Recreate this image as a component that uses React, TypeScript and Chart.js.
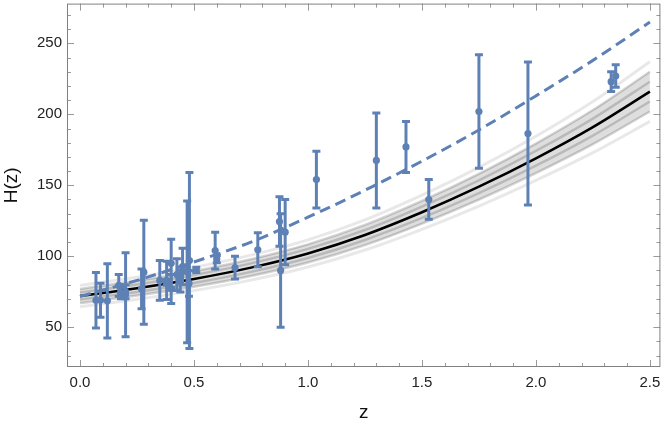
import React, { useEffect, useRef } from "react";
import { Chart, registerables } from "chart.js";

Chart.register(...registerables);

const curveZ = [0, 0.25, 0.5, 0.75, 1.0, 1.25, 1.5, 1.75, 2.0, 2.25, 2.5];
const bestFit = [72, 77.5, 84, 92, 102, 115, 131, 149, 169, 191, 216];
const dashedModel = [71.7, 83, 96, 110, 127.5, 146.5, 167, 189, 213, 238, 265];
const outerUpper = [79.5, 85.3, 92.2, 100.8, 111.6, 125.6, 143, 162.6, 184.5, 209, 237];
const outerLower = [64.5, 69.7, 75.8, 83.2, 92.4, 104.4, 119, 135.4, 153.5, 173, 195];
const midUpper = [77, 82.7, 89.5, 97.9, 108.4, 122.1, 139, 158.1, 179.4, 203, 230];
const midLower = [67, 72.3, 78.5, 86.1, 95.6, 107.9, 123, 139.9, 158.6, 179, 202];
const innerUpper = [74.5, 80.1, 86.8, 95, 105.2, 118.5, 135, 153.5, 174.2, 197, 223];
const innerLower = [69.5, 74.9, 81.2, 89, 98.8, 111.5, 127, 144.5, 163.8, 185, 209];

// ---- H(z) measurements ----
const zData = [0.07, 0.09, 0.12, 0.17, 0.18, 0.2, 0.2, 0.27, 0.28, 0.35, 0.38, 0.38, 0.4, 0.4, 0.425, 0.44, 0.45, 0.47, 0.478, 0.48, 0.51, 0.593, 0.6, 0.68, 0.78, 0.875, 0.88, 0.9, 1.037, 1.3, 1.43, 1.53, 1.75, 1.965, 2.33, 2.35];
const hData = [69, 69, 68.6, 79.5, 74, 72.9, 75, 77, 88.8, 83, 81.5, 83, 95, 77, 87.1, 82.6, 92.8, 89, 80.9, 97, 90.4, 104, 98, 92, 104.6, 124.5, 90, 117, 154, 167.5, 177, 140, 202, 186.5, 223, 227];
const errData = [19.6, 12, 26.2, 7.6, 4, 29.6, 5, 14, 36.6, 14, 1.9, 13.5, 17, 10.2, 11.2, 7.8, 12.9, 50, 9, 62, 1.9, 13, 2.5, 8, 12, 17.5, 40, 23, 20, 33.5, 18, 14, 40, 50.4, 7, 8];

// ---- ticks ----
const xMajorTicks = [0, 0.5, 1.0, 1.5, 2.0, 2.5];
const xMinorTicks = [-0.1, 0.1, 0.2, 0.3, 0.4, 0.6, 0.7, 0.8, 0.9, 1.1, 1.2, 1.3, 1.4, 1.6, 1.7, 1.8, 1.9, 2.1, 2.2, 2.3, 2.4];
const yMajorTicks = [50, 100, 150, 200, 250];
const yMinorTicks = [30, 40, 60, 70, 80, 90, 110, 120, 130, 140, 160, 170, 180, 190, 210, 220, 230, 240, 260, 270];

const BLUE = "#5E81B5";
const FONT = "'Liberation Sans', Arial, sans-serif";

const toXY = (ys: number[]) => curveZ.map((z, i) => ({ x: z, y: ys[i] }));

const framePlugin = {
  id: "framePlugin",
  afterDatasetsDraw(chart: any) {
    const { ctx, chartArea: a, scales } = chart;
    const x = scales.x;
    const y = scales.y;
    ctx.save();
    ctx.beginPath();
    ctx.rect(a.left, a.top, a.right - a.left, a.bottom - a.top);
    ctx.clip();
    ctx.strokeStyle = BLUE;
    ctx.lineWidth = 3;
    ctx.lineCap = "butt";
    for (let i = 0; i < zData.length; i++) {
      const px = x.getPixelForValue(zData[i]);
      const top = y.getPixelForValue(hData[i] + errData[i]);
      const bot = y.getPixelForValue(hData[i] - errData[i]);
      ctx.beginPath();
      ctx.moveTo(px, top);
      ctx.lineTo(px, bot);
      ctx.moveTo(px - 4, top);
      ctx.lineTo(px + 4, top);
      ctx.moveTo(px - 4, bot);
      ctx.lineTo(px + 4, bot);
      ctx.stroke();
    }
    ctx.restore();
  },
  afterDraw(chart: any) {
    const { ctx, chartArea: a, scales } = chart;
    const x = scales.x;
    const y = scales.y;
    ctx.save();
    ctx.lineWidth = 1;
    ctx.strokeStyle = "#9a9a9a";
    const tickX = (v: number, len: number) => {
      const px = Math.round(x.getPixelForValue(v)) + 0.5;
      if (px < a.left || px > a.right) return;
      ctx.beginPath();
      ctx.moveTo(px, a.bottom);
      ctx.lineTo(px, a.bottom - len);
      ctx.moveTo(px, a.top);
      ctx.lineTo(px, a.top + len);
      ctx.stroke();
    };
    const tickY = (v: number, len: number) => {
      const py = Math.round(y.getPixelForValue(v)) + 0.5;
      if (py < a.top || py > a.bottom) return;
      ctx.beginPath();
      ctx.moveTo(a.left, py);
      ctx.lineTo(a.left + len, py);
      ctx.moveTo(a.right, py);
      ctx.lineTo(a.right - len, py);
      ctx.stroke();
    };
    xMajorTicks.forEach((v) => tickX(v, 7));
    xMinorTicks.forEach((v) => tickX(v, 4));
    yMajorTicks.forEach((v) => tickY(v, 7));
    yMinorTicks.forEach((v) => tickY(v, 4));
    ctx.strokeStyle = "#808080";
    ctx.strokeRect(a.left + 0.5, a.top + 0.5, a.right - a.left - 1, a.bottom - a.top - 1);
    ctx.restore();
  },
};

export default function App() {
  const ref = useRef<HTMLCanvasElement | null>(null);
  useEffect(() => {
    document.body.style.margin = "0";
    const canvas = ref.current;
    if (!canvas) return;
    const bandLine = (data: number[], color: string, w: number, order: number, extra: any = {}) => ({
      type: "line",
      data: toXY(data),
      borderColor: color,
      borderWidth: w,
      pointRadius: 0,
      cubicInterpolationMode: "monotone",
      fill: false,
      order,
      ...extra,
    });
    const chart = new Chart(canvas, {
      type: "line",
      data: {
        datasets: [
          {
            type: "scatter",
            data: zData.map((z, i) => ({ x: z, y: hData[i] })),
            backgroundColor: BLUE,
            borderWidth: 0,
            pointRadius: 3.6,
            pointHoverRadius: 3.6,
            order: 0,
          } as any,
          bandLine(dashedModel, BLUE, 3, 1, { borderDash: [11, 6], borderCapStyle: "butt" }),
          bandLine(bestFit, "#000000", 2.5, 2),
          bandLine(innerUpper, "rgba(0,0,0,0.17)", 2.5, 3),
          bandLine(innerLower, "rgba(0,0,0,0.17)", 2.5, 4),
          bandLine(midUpper, "rgba(0,0,0,0.17)", 2.5, 5, { fill: 6, backgroundColor: "rgba(0,0,0,0.13)" }),
          bandLine(midLower, "rgba(0,0,0,0.17)", 2.5, 6),
          bandLine(outerUpper, "rgba(0,0,0,0.09)", 3, 7),
          bandLine(outerLower, "rgba(0,0,0,0.09)", 3, 8),
        ] as any,
      },
      options: {
        animation: false,
        responsive: false,
        devicePixelRatio: 1,
        layout: { padding: { top: 0, right: 1, bottom: 0, left: 0 } },
        plugins: { legend: { display: false }, tooltip: { enabled: false } },
        events: [],
        scales: {
          x: {
            type: "linear",
            min: -0.057,
            max: 2.546,
            border: { display: false },
            grid: { display: false, drawTicks: false },
            afterBuildTicks: (s: any) => {
              s.ticks = xMajorTicks.map((v) => ({ value: v }));
            },
            afterFit: (s: any) => {
              s.height = 59;
              s.paddingLeft = 0;
              s.paddingRight = 0;
            },
            ticks: {
              padding: 7,
              color: "#222",
              font: { family: FONT, size: 15 },
              maxRotation: 0,
              callback: (v: any) => Number(v).toFixed(1),
            },
            title: {
              display: true,
              text: "z",
              color: "#111",
              font: { family: FONT, size: 19 },
              padding: { top: 0, bottom: 2 },
            },
          },
          y: {
            type: "linear",
            min: 22,
            max: 278,
            border: { display: false },
            grid: { display: false, drawTicks: false },
            afterBuildTicks: (s: any) => {
              s.ticks = yMajorTicks.map((v) => ({ value: v }));
            },
            afterFit: (s: any) => {
              s.width = 67;
              s.paddingTop = 0;
              s.paddingBottom = 0;
            },
            ticks: {
              padding: 5,
              color: "#222",
              font: { family: FONT, size: 15 },
              callback: (v: any) => String(v),
            },
            title: {
              display: true,
              text: "H(z)",
              color: "#111",
              font: { family: FONT, size: 19 },
              padding: { top: 0, bottom: 0 },
            },
          },
        },
      } as any,
      plugins: [framePlugin],
    });
    return () => chart.destroy();
  }, []);
  return (
    <div style={{ width: 664, height: 426 }}>
      <canvas ref={ref} width={664} height={426} style={{ display: "block" }} />
    </div>
  );
}
